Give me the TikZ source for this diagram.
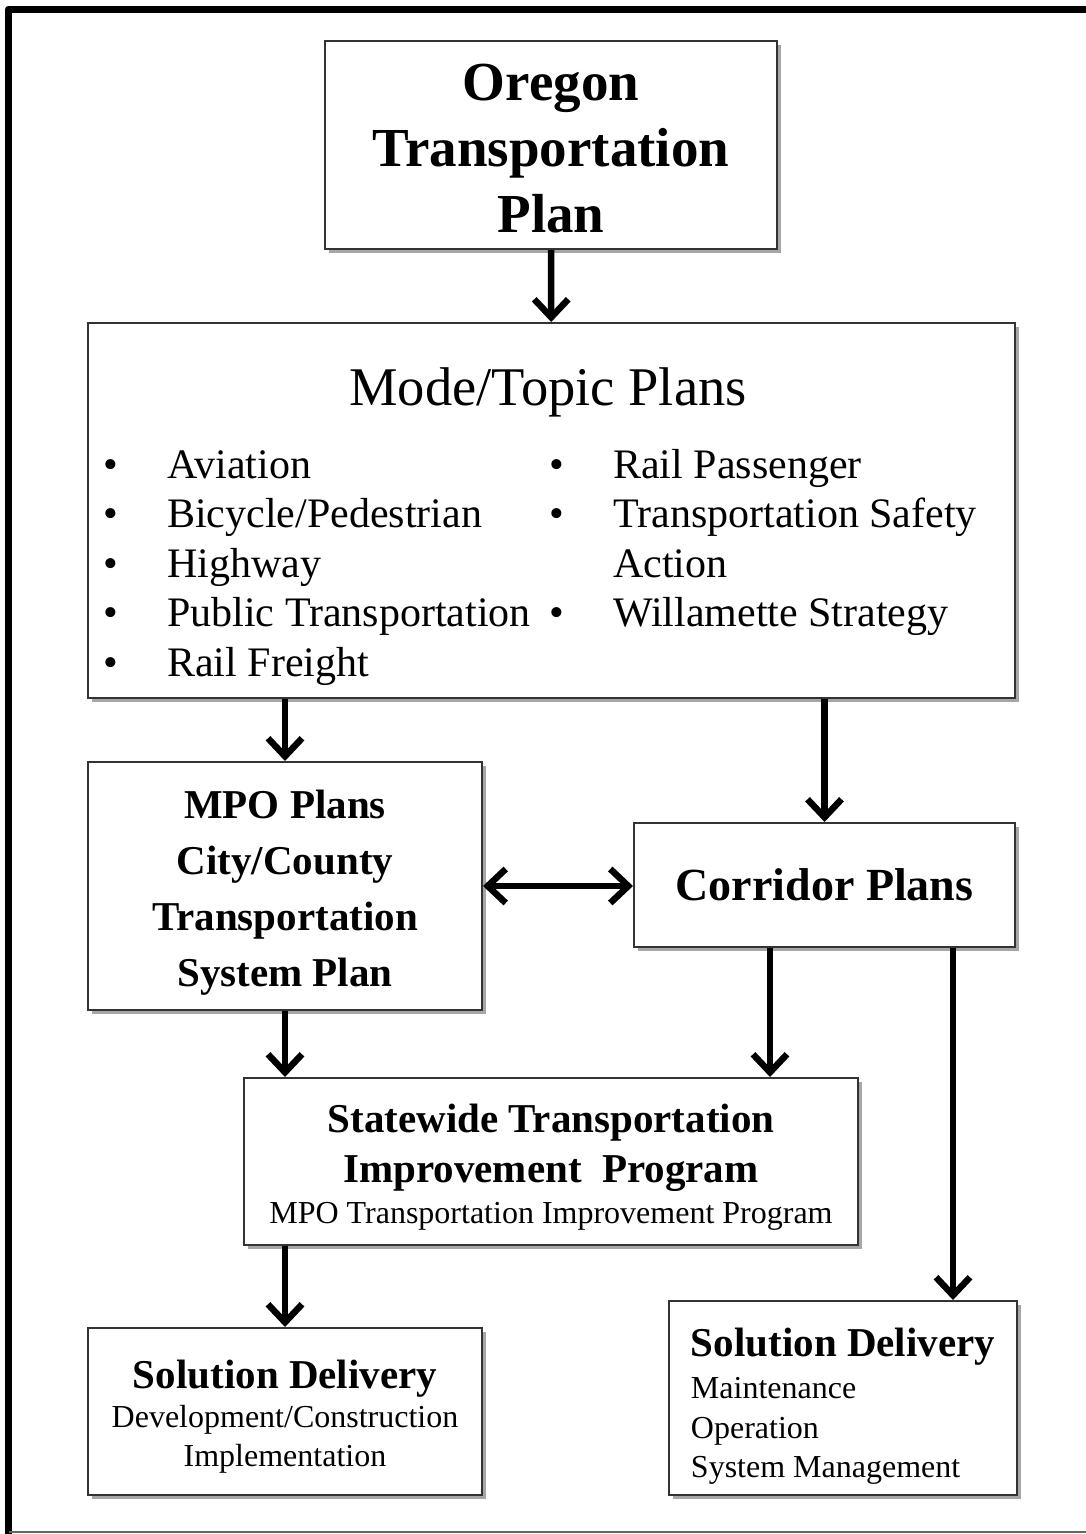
\documentclass[tikz,border=0pt]{standalone}
\usepackage{fontspec}
\setmainfont{Liberation Serif}
\usetikzlibrary{arrows.meta,shadows}

\tikzset{
  planbox/.style={draw=black!80, line width=2pt, fill=white, inner sep=0pt, align=center,
    drop shadow={shadow xshift=4pt, shadow yshift=-4pt, opacity=0.35, fill=black}},
  flow/.style={line width=6.5pt, -{Straight Barb[length=18pt,width=34pt,line width=6.5pt]}},
  flowboth/.style={line width=6.5pt, {Straight Barb[length=18pt,width=34pt,line width=6.5pt]}-{Straight Barb[length=18pt,width=34pt,line width=6.5pt]}},
  item/.style={anchor=base west, inner sep=0pt, font=\fontsize{42}{50}\selectfont},
}
\newcommand{\itembullet}{\llap{\textbullet\hspace{49pt}}}

\begin{document}
\begin{tikzpicture}[x=1pt,y=-1pt]
  \useasboundingbox (0,0) rectangle (1086,1534);
  % outer frame
  \draw[line width=7pt, line join=round] (8.5,1540) -- (8.5,9) -- (1092,9);
  \draw[black!60, line width=1.5pt] (8.5,1532) -- (1092,1532);

  % boxes
  \node[planbox, minimum width=452pt, minimum height=208pt,
    font=\fontsize{55}{66}\selectfont\bfseries] (otp) at (551,145)
    {\rule{0pt}{44pt}Oregon\\Transportation\\Plan};
  \node[planbox, minimum width=927pt, minimum height=375pt] (mode) at (551.5,510.5) {};
  \node[anchor=base, inner sep=0pt, font=\fontsize{54.5}{60}\selectfont] (modetitle)
    at (548,405) {Mode/Topic Plans};
  \foreach \txt [count=\i] in {Aviation,Bicycle/Pedestrian,Highway,Public Transportation,Rail Freight}
    \node[item] (left\i) at (167,{428.4+49.6*\i}) {\itembullet\txt};
  \foreach \txt/\row in {Rail Passenger/1,Transportation Safety/2,Willamette Strategy/4}
    \node[item] (right\row) at (613,{428.4+49.6*\row}) {\itembullet\txt};
  \node[item] (right3) at (613,577.2) {Action};

  \node[planbox, minimum width=394pt, minimum height=248pt,
    font=\fontsize{41}{56}\selectfont\bfseries] (mpo) at (285,886)
    {\rule{0pt}{42pt}MPO Plans\\City/County\\Transportation\\System Plan};
  \node[planbox, minimum width=381pt, minimum height=124pt,
    font=\fontsize{46}{56}\selectfont\bfseries] (corridor) at (824.5,885) {Corridor Plans};
  \node[planbox, minimum width=614pt, minimum height=167pt,
    font=\fontsize{41}{50}\selectfont\bfseries] (stip) at (551,1161.5)
    {\rule{0pt}{40pt}Statewide Transportation\\Improvement\ \ Program\\[-9pt]
     {\mdseries\fontsize{32}{41}\selectfont MPO Transportation Improvement Program}};
  \node[planbox, minimum width=394pt, minimum height=167pt,
    font=\fontsize{32}{39}\selectfont] (sdl) at (285,1411.5)
    {{\bfseries\fontsize{41}{48}\selectfont\rule{0pt}{38pt}Solution Delivery}\\Development/Construction\\Implementation};
  \node[planbox, minimum width=348pt, minimum height=194pt, align=left,
    font=\fontsize{32}{39.5}\selectfont] (sdr) at (843,1398)
    {{\bfseries\fontsize{41}{48}\selectfont\rule{0pt}{44.5pt}Solution Delivery}\\[3pt]Maintenance\\Operation\\System Management};

  % connectors
  \draw[flow] (otp) -- (mode);
  \draw[flow] (mode.south -| mpo.north) -- (mpo.north);
  \draw[flow] (mode.south -| corridor.north) -- (corridor.north);
  \draw[flowboth] (mpo.east) -- (mpo.east -| corridor.west);
  \draw[flow] (mpo.south) -- (mpo.south |- stip.north);
  \draw[flow] ([xshift=-54.5pt]corridor.south) -- ([xshift=-54.5pt]corridor.south |- stip.north);
  \draw[flow] ([xshift=128.5pt]corridor.south) -- ([xshift=128.5pt]corridor.south |- sdr.north);
  \draw[flow] (stip.south -| sdl.north) -- (sdl.north);
\end{tikzpicture}
\end{document}
